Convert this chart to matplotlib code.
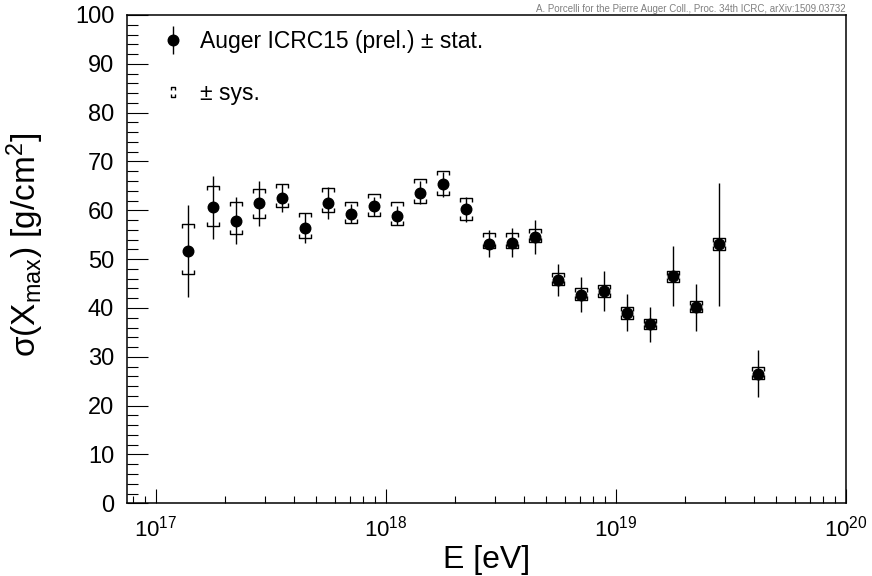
import numpy as np
import matplotlib
matplotlib.use("Agg")
import matplotlib.pyplot as plt
from matplotlib.path import Path
from matplotlib.lines import Line2D
from matplotlib.legend_handler import HandlerTuple
from matplotlib.ticker import LogLocator, MultipleLocator, NullFormatter

plt.rcParams['font.family'] = ['Liberation Sans', 'DejaVu Sans']
plt.rcParams['mathtext.fontset'] = 'custom'
plt.rcParams['mathtext.rm'] = 'Liberation Sans'
plt.rcParams['mathtext.it'] = 'Liberation Sans:italic'
plt.rcParams['mathtext.default'] = 'regular'

# Auger ICRC15 (prel.) sigma(Xmax)
log_e = [17.14, 17.25, 17.35, 17.45, 17.55, 17.65, 17.75, 17.85, 17.95, 18.05,
         18.15, 18.25, 18.35, 18.45, 18.55, 18.65, 18.75, 18.85, 18.95, 19.05,
         19.15, 19.25, 19.35, 19.45, 19.62]
sigma = [51.7, 60.6, 57.9, 61.4, 62.5, 56.4, 61.5, 59.3, 60.8, 58.9,
         63.6, 65.3, 60.2, 53.2, 53.4, 54.5, 45.7, 42.7, 43.4, 39.0,
         36.7, 46.5, 40.1, 53.0, 26.5]
stat = [9.4, 6.4, 4.9, 4.7, 2.9, 3.1, 3.3, 2.0, 2.0, 2.0,
        2.3, 2.5, 2.6, 2.8, 2.95, 3.5, 3.3, 3.6, 4.1, 3.8,
        3.6, 6.15, 4.8, 12.6, 4.8]
sys_up = [5.5, 4.3, 3.7, 3.05, 2.9, 3.1, 3.1, 2.4, 2.6, 2.7,
          2.8, 2.8, 2.3, 2.2, 1.95, 1.7, 1.5, 1.4, 1.25, 1.2,
          1.1, 1.0, 1.4, 1.4, 1.4]
sys_lo = [4.7, 3.9, 2.7, 2.95, 1.9, 2.0, 1.9, 2.0, 1.9, 2.0,
          2.1, 2.1, 2.1, 0.9, 1.15, 1.05, 1.05, 1.0, 1.1, 1.2,
          1.1, 1.2, 1.0, 1.1, 1.0]

energy = 10 ** np.array(log_e)
sigma = np.array(sigma)

# bracket markers for the systematic band
top_br = Path([(-1, -0.7), (-1, 0), (1, 0), (1, -0.7)])
bot_br = Path([(-1, 0.7), (-1, 0), (1, 0), (1, 0.7)])
leg_br = Path([(-0.47, 0.45), (-0.47, 1), (0.47, 1), (0.47, 0.45),
               (-0.47, -0.45), (-0.47, -1), (0.47, -1), (0.47, -0.45)],
              [Path.MOVETO, Path.LINETO, Path.LINETO, Path.LINETO,
               Path.MOVETO, Path.LINETO, Path.LINETO, Path.LINETO])

fig = plt.figure(figsize=(8.72, 5.76), dpi=100, facecolor='w')
ax = fig.add_axes([0.1453, 0.1262, 0.8245, 0.8478])

ax.errorbar(energy, sigma, yerr=stat, fmt='o', color='k', ms=7.6,
            elinewidth=1.0, capsize=0, zorder=3)
ax.plot(energy, sigma + np.array(sys_up), ls='none', marker=top_br, ms=8.4,
        mfc='none', mec='k', mew=1.0, zorder=4)
ax.plot(energy, sigma - np.array(sys_lo), ls='none', marker=bot_br, ms=8.4,
        mfc='none', mec='k', mew=1.0, zorder=4)

ax.set_xscale('log')
ax.set_xlim(10 ** 16.874, 1e20)
ax.set_ylim(0, 100)

ax.xaxis.set_major_locator(LogLocator(base=10, numticks=10))
ax.xaxis.set_minor_locator(LogLocator(base=10, subs=np.arange(2, 10), numticks=20))
ax.xaxis.set_minor_formatter(NullFormatter())
ax.yaxis.set_major_locator(MultipleLocator(10))
ax.yaxis.set_minor_locator(MultipleLocator(2))

for s in ax.spines.values():
    s.set_linewidth(1.1)
ax.tick_params(axis='both', which='both', direction='in', width=0.8,
               top=False, right=False)
ax.tick_params(axis='x', which='major', length=10, pad=9, labelsize=16)
ax.tick_params(axis='x', which='minor', length=5)
ax.tick_params(axis='y', which='major', length=15, pad=9, labelsize=17)
ax.tick_params(axis='y', which='minor', length=8)

ax.set_xlabel('E [eV]', fontsize=23)
ax.xaxis.set_label_coords(0.5, -0.086)
ax.set_ylabel('σ(X$_{max}$) [g/cm$^{2}$]', fontsize=24)
ax.yaxis.set_label_coords(-0.112, 0.53)

h_stat = (Line2D([], [], ls='none', marker='|', ms=20, mew=1.0, color='k'),
          Line2D([], [], ls='none', marker='o', ms=7.6, color='k'))
h_sys = Line2D([], [], ls='none', marker=leg_br, ms=6.7, mfc='none',
               mec='k', mew=1.0)
ax.legend([h_stat, h_sys], ['Auger ICRC15 (prel.) ± stat.', '± sys.'],
          handler_map={tuple: HandlerTuple(ndivide=1)},
          loc='upper left', bbox_to_anchor=(0.048, 0.969), frameon=False,
          fontsize=16.5, borderpad=0, borderaxespad=0, handlelength=1.0,
          handletextpad=0.7, labelspacing=1.27)

fig.text(845.7 / 872, 1 - 9 / 576,
         'A. Porcelli for the Pierre Auger Coll., Proc. 34th ICRC, arXiv:1509.03732',
         ha='right', va='center', fontsize=7, color='#808080')

fig.savefig('out.png', dpi=100)
